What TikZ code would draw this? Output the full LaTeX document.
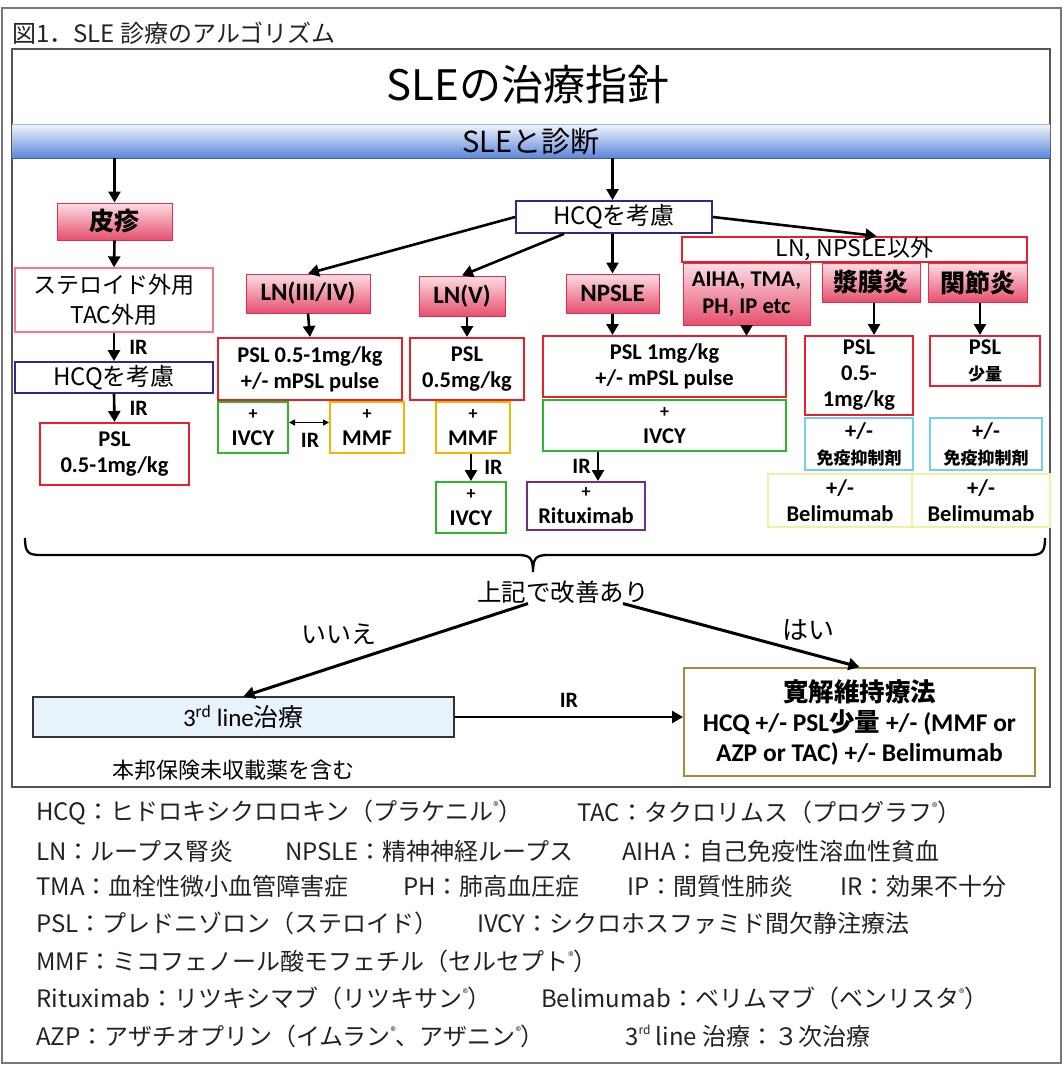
\documentclass[tikz,border=0pt]{standalone}
\usepackage{fontspec}
\setmainfont{Carlito}
\newfontfamily\jp{Noto Sans CJK JP}
\usetikzlibrary{arrows.meta}
\newcommand\fs[2]{\fontsize{#1}{#2}\selectfont}
\newcommand\regm{\raisebox{0.75ex}{\fs{11}{11}®}}
\definecolor{bred}{HTML}{E8202A}
\definecolor{hred}{HTML}{DD3050}
\definecolor{pktop}{HTML}{FCDDE4}
\definecolor{pkbot}{HTML}{E6506E}
\definecolor{pinkline}{HTML}{F07A8A}
\definecolor{bnavy}{HTML}{2E2A8A}
\definecolor{bgreen}{HTML}{2DB52D}
\definecolor{borange}{HTML}{F5B400}
\definecolor{bcyan}{HTML}{70D0F0}
\definecolor{byellow}{HTML}{F4F0A0}
\definecolor{bpurple}{HTML}{7A2A8A}
\definecolor{bbrown}{HTML}{A88A3A}
\definecolor{lblue}{HTML}{E8F2FB}
\definecolor{lgtext}{HTML}{222222}
\definecolor{frame}{HTML}{555555}
\definecolor{bandtop}{HTML}{EEF2FA}
\definecolor{bandmid}{HTML}{DCE5F5}
\definecolor{bandbot}{HTML}{5A86DC}
\begin{document}
\begin{tikzpicture}[x=1pt,y=-1pt,
  every node/.style={inner sep=0pt, align=center},
  sz/.style 2 args={minimum width=#1, minimum height=#2},
  arr/.style={line width=2.6pt, -{Triangle[length=11pt,width=12pt]}},
  bx/.style={draw, line width=2pt, font=\bfseries\fs{22.5}{26}},
  redbox/.style={bx, draw=bred},
  grnbox/.style={bx, draw=bgreen},
  orgbox/.style={bx, draw=borange},
  cyanbox/.style={bx, draw=bcyan},
  ylwbox/.style={bx, draw=byellow},
  prpbox/.style={bx, draw=bpurple},
  hdr/.style={draw=hred, line width=1pt, top color=pktop, bottom color=pkbot, font=\bfseries\fs{25}{28}},
  navybox/.style={draw=bnavy, line width=1.8pt, font=\jp\fs{24}{26}},
  lg/.style={anchor=west, font=\jp\fs{24}{28}, text=lgtext},
  lbl/.style={font=\bfseries\fs{22}{24}},
]
\useasboundingbox (0,0) rectangle (1064,1070);
% frames
\draw[line width=1.5pt, draw=frame!80] (2,8) rectangle (1061,1063);
\draw[line width=1.5pt, draw=frame] (12,49) rectangle (1050,787);
\node[anchor=west, font=\jp\fs{24}{26}, text=lgtext] (cap) at (12,33) {図1．SLE 診療のアルゴリズム};
% title and band
\node[font=\jp\fs{42}{46}] (title) at (528,85) {SLEの治療指針};
\node[sz={1038}{33}, top color=bandtop, middle color=bandmid, bottom color=bandbot, font=\jp\fs{29}{32}] (band) at (531,141.5) {SLEと診断};
\draw[line width=1pt, draw=bandbot!70!black] (band.south west) -- (band.south east);
\draw[line width=0.8pt, draw=bandbot!60!white] (band.north west) -- (band.north east);

% left column
\node[hdr, sz={115}{37}] (hishin) at (114.5,221.5) {\jp\bfseries 皮疹};
\node[draw=pinkline, line width=1.3pt, sz={198}{64}, font=\jp\fs{23}{30}] (steroid) at (114,300) {ステロイド外用\\TAC外用};
\node[navybox, sz={198}{31}] (hcqL) at (114,377.5) {HCQを考慮};
\node[redbox, sz={149}{62}] (pslL) at (114.5,454) {PSL\\0.5-1mg/kg};
\draw[arr] (band.south -| hishin.north) -- (hishin.north);
\draw[arr] (hishin.south) -- (steroid.north);
\draw[arr] (steroid.south) -- node[lbl, anchor=west, xshift=14pt] {IR} (hcqL.north);
\draw[arr] (hcqL.south) -- node[lbl, anchor=west, xshift=14pt] {IR} (pslL.north);

% center
\node[navybox, sz={196}{32}] (hcqC) at (614,217) {HCQを考慮};
\node[hdr, sz={124}{39}] (ln34) at (308,293.5) {LN(III/IV)};
\node[hdr, sz={86}{40}] (ln5) at (462,296) {LN(V)};
\node[hdr, sz={93}{39}] (npsle) at (612.5,293.5) {NPSLE};
\node[draw=bred, line width=2pt, fill=white, sz={345}{25}, font=\jp\fs{23}{24}] (other) at (854.5,249.5) {LN, NPSLE以外};
\node[hdr, sz={127}{62}, font=\bfseries\fs{22.5}{27}] (aiha) at (746.5,294) {AIHA, TMA,\\PH, IP etc};
\node[hdr, sz={98}{39}] (serosa) at (871,282.5) {\jp\bfseries 漿膜炎};
\node[hdr, sz={99}{39}] (joint) at (977.5,282.5) {\jp\bfseries 関節炎};

\draw[arr] (band.south -| npsle.north) -- (hcqC.north -| npsle.north);
\draw[arr] (hcqC.west) -- (ln34.north);
\draw[arr] ([xshift=-50pt]hcqC.south) -- (ln5.north);
\draw[arr] (hcqC.south -| npsle.north) -- (npsle.north);
\draw[arr] (hcqC.east) -- ([xshift=22pt]other.north);

% LN III/IV
\node[redbox, sz={184}{62}] (psl34) at (310,369) {PSL 0.5-1mg/kg\\+/- mPSL pulse};
\node[grnbox, sz={70}{51}] (ivcy34) at (253,427.5) {{\fs{18}{20}+}\\IVCY};
\node[orgbox, sz={74}{51}] (mmf34) at (367,427.5) {{\fs{18}{20}+}\\MMF};
\draw[arr] (ln34.south) -- (psl34.north);
\draw[line width=1.5pt, {Triangle[length=6pt,width=6pt]}-{Triangle[length=6pt,width=6pt]}] ([yshift=5pt]ivcy34.east) -- ([yshift=5pt]mmf34.west);
\node[lbl] (ir34) at (310,440) {IR};

% LN V
\node[redbox, sz={114}{62}] (psl5) at (467,369) {PSL\\0.5mg/kg};
\node[orgbox, sz={74}{51}] (mmf5) at (473,427.5) {{\fs{18}{20}+}\\MMF};
\node[grnbox, sz={70}{51}] (ivcy5) at (471,507.5) {{\fs{18}{20}+}\\IVCY};
\draw[arr] (ln5.south -| psl5.north) -- (psl5.north);
\draw[arr] (mmf5.south -| ivcy5.north) -- node[lbl, anchor=west, xshift=12pt] {IR} (ivcy5.north);

% NPSLE
\node[redbox, sz={243}{61}] (pslN) at (664.5,366.5) {PSL 1mg/kg\\+/- mPSL pulse};
\node[grnbox, sz={243}{51}] (ivcyN) at (664.5,425.5) {{\fs{18}{20}+}\\IVCY};
\node[prpbox, sz={118}{48}] (ritux) at (586,506) {{\fs{18}{20}+}\\Rituximab};
\draw[arr] (npsle.south) -- (npsle.south |- pslN.north);
\draw[arr] (aiha.south) -- ([yshift=-1pt]aiha.south |- pslN.north);
\coordinate (rt) at ([xshift=12pt]ritux.north);
\draw[arr] (ivcyN.south -| rt) -- node[lbl, anchor=east, xshift=-6pt] {IR} (rt);

% right
\node[redbox, sz={108}{79}] (pslS) at (859,375.5) {PSL\\0.5-\\1mg/kg};
\node[cyanbox, sz={108}{52}] (immS) at (859,444) {+/-\\{\jp\bfseries\fs{17}{22}免疫抑制剤}};
\node[redbox, sz={110}{50}] (pslJ) at (985,361) {PSL\\{\jp\bfseries\fs{17}{22}少量}};
\node[cyanbox, sz={112}{52}] (immJ) at (986,444) {+/-\\{\jp\bfseries\fs{17}{22}免疫抑制剤}};
\node[ylwbox, line width=1.3pt, sz={144}{53}] (belS) at (840,500.5) {+/-\\Belimumab};
\node[ylwbox, line width=1.3pt, sz={138}{53}] (belJ) at (981,500.5) {+/-\\Belimumab};
\draw[arr] (serosa.south -| 874,0) -- (pslS.north -| 874,0);
\draw[arr] (joint.south -| 980,0) -- (pslJ.north -| 980,0);

% brace
\draw[line width=2.3pt] (25,538) .. controls (25,552) and (28,555) .. (40,555) -- (518,555)
  .. controls (530,555) and (533,558) .. (533,572) .. controls (533,558) and (536,555) .. (548,555)
  -- (1030,555) .. controls (1042,555) and (1045,552) .. (1045,538);

% bottom
\node[font=\jp\fs{24.5}{28}] (kaizen) at (563,592) {上記で改善あり};
\node[draw=black!80, line width=1.5pt, fill=lblue, sz={421}{40}, font=\fs{25}{28}] (third) at (243.5,717) {3\textsuperscript{rd} line{\jp 治療}};
\node[draw=bbrown, line width=2pt, sz={351}{108}, font=\bfseries\fs{25.5}{30}] (remis) at (859.5,722) {{\jp\bfseries\fs{25.5}{30}寛解維持療法}\\HCQ +/- PSL{\jp\bfseries 少量} +/- (MMF or\\AZP or TAC) +/- Belimumab};
\draw[arr, line width=3pt] ([xshift=-35pt]kaizen.south) -- (third.north);
\draw[arr, line width=3pt] ([xshift=60pt]kaizen.south) -- (remis.north);
\node[font=\jp\fs{25}{28}] (no) at (339,634) {いいえ};
\node[font=\jp\fs{26}{28}] (yes) at (808,630) {はい};
\draw[arr] (third.east) -- node[lbl, above=8pt] {IR} (third.east -| remis.west);
\node[font=\jp\fs{22}{24}] (note) at (233,770) {本邦保険未収載薬を含む};

% legend
\node[lg] (l1a) at (36,812) {HCQ：ヒドロキシクロロキン（プラケニル\regm）};
\node[lg] (l1b) at (577,812) {TAC：タクロリムス（プログラフ\regm）};
\node[lg] (l2a) at (36,851) {LN：ループス腎炎};
\node[lg] (l2b) at (285,851) {NPSLE：精神神経ループス};
\node[lg] (l2c) at (622,851) {AIHA：自己免疫性溶血性貧血};
\node[lg] (l3a) at (36,886) {TMA：血栓性微小血管障害症};
\node[lg] (l3b) at (403,886) {PH：肺高血圧症};
\node[lg] (l3c) at (627,886) {IP：間質性肺炎};
\node[lg] (l3d) at (840,886) {IR：効果不十分};
\node[lg] (l4a) at (36,923) {PSL：プレドニゾロン（ステロイド）};
\node[lg] (l4b) at (477,923) {IVCY：シクロホスファミド間欠静注療法};
\node[lg] (l5a) at (36,961) {MMF：ミコフェノール酸モフェチル（セルセプト\regm）};
\node[lg] (l6a) at (36,998) {Rituximab：リツキシマブ（リツキサン\regm）};
\node[lg] (l6b) at (541,998) {Belimumab：ベリムマブ（ベンリスタ\regm）};
\node[lg] (l7a) at (36,1036) {AZP：アザチオプリン（イムラン\regm、アザニン\regm）};
\node[lg] (l7b) at (625,1036) {3\raisebox{0.8ex}{\fs{12}{12}rd} line 治療：３次治療};
\end{tikzpicture}
\end{document}
